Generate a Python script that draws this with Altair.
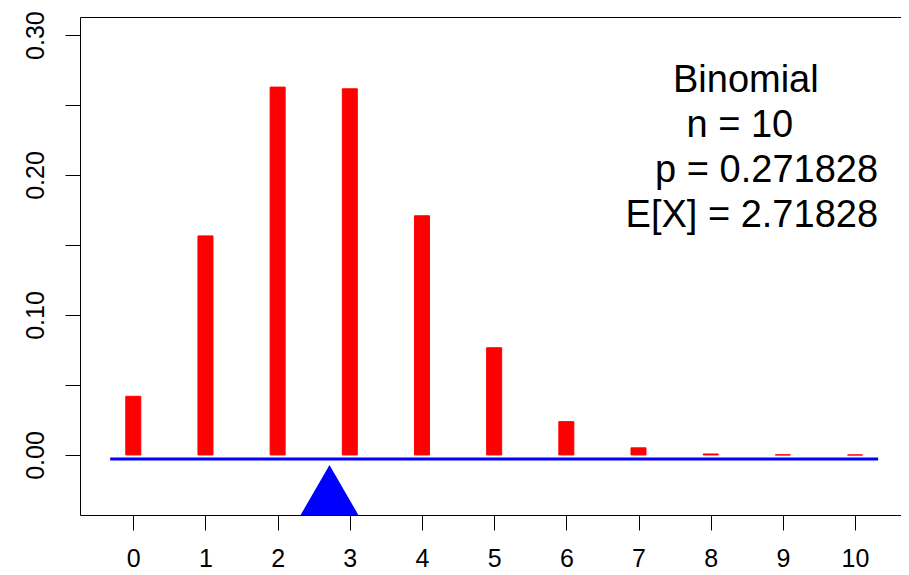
import altair as alt
import pandas as pd

# ---- data ----
k_values = list(range(11))
probabilities = [0.0419, 0.1565, 0.2628, 0.2616, 0.1709, 0.0766, 0.0238, 0.0051, 0.0007, 0.0001, 0.0000]
y_tick_values = [0.0, 0.05, 0.1, 0.15, 0.2, 0.25, 0.3]
mean_value = 2.71828
annotation_lines = ["Binomial", "n = 10", "p = 0.271828", "E[X] = 2.71828"]

# ---- geometry helpers ----
half_bar = 0.104
x_domain = [-0.7385, 10.637]
y_domain = [-0.0429, 0.3129]
beam_y = -0.0029
fulcrum_half = 0.4
fulcrum_apex = -0.0071

bars_df = pd.DataFrame({
    "k": k_values,
    "left": [k - half_bar for k in k_values],
    "right": [k + half_bar for k in k_values],
    "p": probabilities,
    "base": [0.0] * len(k_values),
})
beam_df = pd.DataFrame({"x": [-0.32], "x2": [10.32], "y": [beam_y]})
tri_df = pd.DataFrame({
    "x": [mean_value - fulcrum_half, mean_value, mean_value + fulcrum_half],
    "y": [y_domain[0], fulcrum_apex, y_domain[0]],
    "y2": [y_domain[0]] * 3,
})
text_center_df = pd.DataFrame({"x": [8.487, 8.404], "y": [0.2593, 0.2269], "t": annotation_lines[:2]})
text_right_df = pd.DataFrame({"x": [10.319, 10.319], "y": [0.1952, 0.1631], "t": annotation_lines[2:]})

FONT = "Liberation Sans"
xs = alt.Scale(domain=x_domain, nice=False, zero=False)
ys = alt.Scale(domain=y_domain, nice=False, zero=False)

x_axis = alt.Axis(values=k_values, title=None, grid=False, domain=False, tickSize=15,
                  tickColor="black", tickWidth=1, labelFontSize=25, labelFont=FONT,
                  labelColor="black", labelPadding=16, labelFlush=False,
                  labelOverlap=False, labelAngle=0, format="d")
y_axis = alt.Axis(values=y_tick_values, title=None, grid=False, domain=False, tickSize=15,
                  tickColor="black", tickWidth=1, labelFontSize=25, labelFont=FONT,
                  labelColor="black", labelPadding=22, labelFlush=False,
                  labelOverlap=False, labelAngle=270, labelAlign="center",
                  labelBaseline="alphabetic",
                  labelExpr="round(datum.value*20) % 2 == 0 ? format(datum.value, '.2f') : ''")

bars = alt.Chart(bars_df).mark_rect(color="#FF0000", stroke="#FF0000", strokeWidth=1).encode(
    x=alt.X("left:Q", scale=xs, axis=x_axis),
    x2="right:Q",
    y=alt.Y("p:Q", scale=ys, axis=y_axis),
    y2="base:Q",
)

beam = alt.Chart(beam_df).mark_rule(color="#0000FF", strokeWidth=3).encode(
    x=alt.X("x:Q", scale=xs), x2="x2:Q", y=alt.Y("y:Q", scale=ys)
)

fulcrum = alt.Chart(tri_df).mark_area(color="#0000FF", clip=True).encode(
    x=alt.X("x:Q", scale=xs), y=alt.Y("y:Q", scale=ys), y2="y2:Q"
)

txt_c = alt.Chart(text_center_df).mark_text(font=FONT, fontSize=38, align="center",
                                            baseline="alphabetic", color="black").encode(
    x=alt.X("x:Q", scale=xs), y=alt.Y("y:Q", scale=ys), text="t:N"
)
txt_r = alt.Chart(text_right_df).mark_text(font=FONT, fontSize=38, align="right",
                                           baseline="alphabetic", color="black").encode(
    x=alt.X("x:Q", scale=xs), y=alt.Y("y:Q", scale=ys), text="t:N"
)

chart = alt.layer(bars, beam, fulcrum, txt_c, txt_r).properties(
    width=821, height=498,
    autosize=alt.AutoSizeParams(type="none"),
    padding={"left": 72, "top": 9, "right": 0, "bottom": 52},
    background="white",
).configure_view(stroke="black", strokeWidth=1)

chart.save("out.html", embed_options={"renderer": "svg", "actions": False})
